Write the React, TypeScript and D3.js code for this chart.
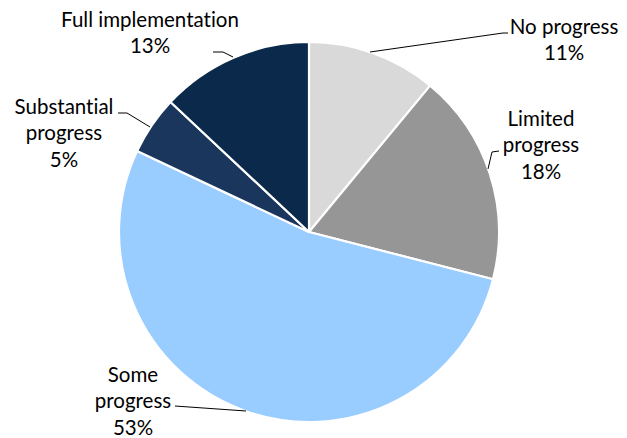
import React from "react";
import * as d3 from "d3";

const categories = ["No progress", "Limited progress", "Some progress", "Substantial progress", "Full implementation"];
const values = [11, 18, 53, 5, 13];
const labelLines = [
  ["No progress", "11%"],
  ["Limited", "progress", "18%"],
  ["Some", "progress", "53%"],
  ["Substantial", "progress", "5%"],
  ["Full implementation", "13%"],
];

const colors = ["#D9D9D9", "#969696", "#99CCFF", "#1B365D", "#0B2A4B"];

// layout: label centre x, first line centre y, leader polyline
const labelLayout = [
  { x: 564, y: 27, leader: [[370, 52], [503, 33], [508, 33]] },
  { x: 541, y: 119, leader: [[488, 169], [492, 152], [499, 151]] },
  { x: 133, y: 375, leader: [[246, 411], [175, 406]] },
  { x: 64, y: 107, leader: [[150, 127], [127, 113], [118, 113]] },
  { x: 150, y: 20, leader: [[233, 57], [223, 52], [213, 52]] },
];

const W = 627;
const H = 438;
const cx = 309;
const cy = 232;
const R = 190;
const fontSize = 20.5;
const lineH = 26.3;

export default function App() {
  const pie = d3.pie<number>().sort(null).value((d) => d);
  const arcs = pie(values);
  const arcGen = d3.arc<d3.PieArcDatum<number>>().innerRadius(0).outerRadius(R);
  const line = d3.line();
  return (
    <svg width={W} height={H} style={{ position: "absolute", left: 0, top: 0 }}>
      <rect width={W} height={H} fill="#fff" />
      <g transform={`translate(${cx},${cy})`}>
        {arcs.map((a, i) => (
          <path key={categories[i]} d={arcGen(a) || ""} fill={colors[i]} stroke="#fff" strokeWidth={2.2} strokeLinejoin="round" />
        ))}
      </g>
      {labelLayout.map((l, i) => (
        <g key={i}>
          <path d={line(l.leader as [number, number][]) || ""} fill="none" stroke="#000" strokeWidth={1} />
          <text
            fontFamily="Lato, 'Open Sans', sans-serif"
            fontSize={fontSize}
            fill="#000"
            textAnchor="middle"
            style={{ fontVariantLigatures: "none", fontFeatureSettings: "'liga' 0, 'clig' 0" }}
          >
            {labelLines[i].map((t, j) => (
              <tspan key={j} x={l.x} y={l.y + j * lineH} dy="0.35em">
                {t}
              </tspan>
            ))}
          </text>
        </g>
      ))}
    </svg>
  );
}
